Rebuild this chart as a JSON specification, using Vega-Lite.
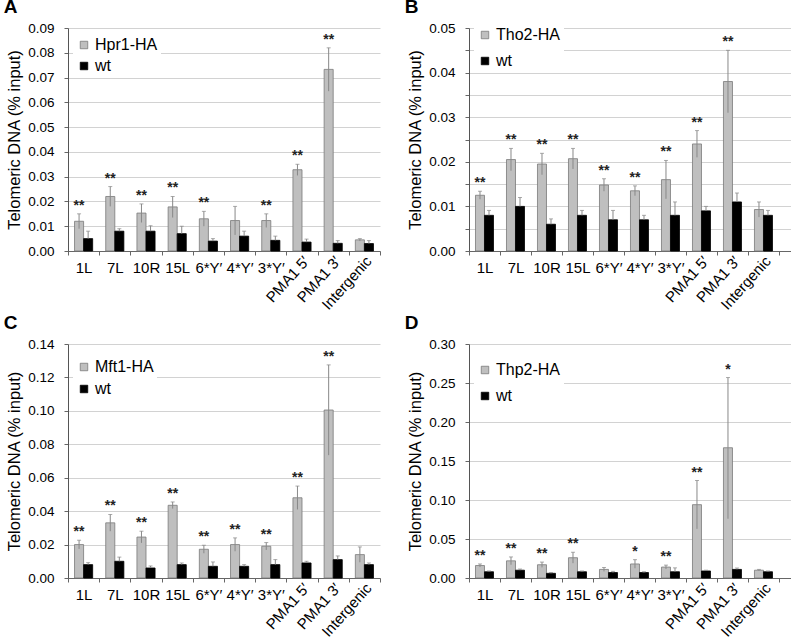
{
"$schema":"https://vega.github.io/schema/vega-lite/v6.json",
"background":"white",
"padding":{"left":3,"top":-2,"right":0,"bottom":0},
"datasets":{"d":[
{"p":"A","s":"1L","g":"Hpr1-HA","v":0.012,"lo":0.009,"hi":0.015,"sig":"**"},
{"p":"A","s":"7L","g":"Hpr1-HA","v":0.022,"lo":0.018,"hi":0.026,"sig":"**"},
{"p":"A","s":"10R","g":"Hpr1-HA","v":0.0153,"lo":0.0115,"hi":0.019,"sig":"**"},
{"p":"A","s":"15L","g":"Hpr1-HA","v":0.0178,"lo":0.0135,"hi":0.022,"sig":"**"},
{"p":"A","s":"6*Y′","g":"Hpr1-HA","v":0.013,"lo":0.010,"hi":0.016,"sig":"**"},
{"p":"A","s":"4*Y′","g":"Hpr1-HA","v":0.0123,"lo":0.0065,"hi":0.018,"sig":""},
{"p":"A","s":"3*Y′","g":"Hpr1-HA","v":0.0123,"lo":0.0095,"hi":0.015,"sig":"**"},
{"p":"A","s":"PMA1 5′","g":"Hpr1-HA","v":0.0328,"lo":0.0305,"hi":0.035,"sig":"**"},
{"p":"A","s":"PMA1 3′","g":"Hpr1-HA","v":0.0733,"lo":0.0645,"hi":0.082,"sig":"**"},
{"p":"A","s":"Intergenic","g":"Hpr1-HA","v":0.0045,"lo":0.004,"hi":0.005,"sig":""},
{"p":"A","s":"1L","g":"wt","v":0.005,"lo":0.002,"hi":0.008,"sig":""},
{"p":"A","s":"7L","g":"wt","v":0.008,"lo":0.007,"hi":0.009,"sig":""},
{"p":"A","s":"10R","g":"wt","v":0.008,"lo":0.006,"hi":0.0102,"sig":""},
{"p":"A","s":"15L","g":"wt","v":0.007,"lo":0.004,"hi":0.010,"sig":""},
{"p":"A","s":"6*Y′","g":"wt","v":0.004,"lo":0.003,"hi":0.005,"sig":""},
{"p":"A","s":"4*Y′","g":"wt","v":0.006,"lo":0.004,"hi":0.008,"sig":""},
{"p":"A","s":"3*Y′","g":"wt","v":0.0043,"lo":0.0027,"hi":0.006,"sig":""},
{"p":"A","s":"PMA1 5′","g":"wt","v":0.0036,"lo":0.0024,"hi":0.0048,"sig":""},
{"p":"A","s":"PMA1 3′","g":"wt","v":0.0031,"lo":0.002,"hi":0.0042,"sig":""},
{"p":"A","s":"Intergenic","g":"wt","v":0.003,"lo":0.0018,"hi":0.0042,"sig":""},
{"p":"B","s":"1L","g":"Tho2-HA","v":0.0125,"lo":0.0116,"hi":0.0134,"sig":"**"},
{"p":"B","s":"7L","g":"Tho2-HA","v":0.0205,"lo":0.018,"hi":0.023,"sig":"**"},
{"p":"B","s":"10R","g":"Tho2-HA","v":0.0195,"lo":0.0171,"hi":0.0219,"sig":"**"},
{"p":"B","s":"15L","g":"Tho2-HA","v":0.0207,"lo":0.0184,"hi":0.023,"sig":"**"},
{"p":"B","s":"6*Y′","g":"Tho2-HA","v":0.0148,"lo":0.0134,"hi":0.0162,"sig":"**"},
{"p":"B","s":"4*Y′","g":"Tho2-HA","v":0.0135,"lo":0.0124,"hi":0.0146,"sig":"**"},
{"p":"B","s":"3*Y′","g":"Tho2-HA","v":0.016,"lo":0.0117,"hi":0.0203,"sig":"**"},
{"p":"B","s":"PMA1 5′","g":"Tho2-HA","v":0.024,"lo":0.021,"hi":0.027,"sig":"**"},
{"p":"B","s":"PMA1 3′","g":"Tho2-HA","v":0.038,"lo":0.031,"hi":0.045,"sig":"**"},
{"p":"B","s":"Intergenic","g":"Tho2-HA","v":0.0093,"lo":0.0076,"hi":0.011,"sig":""},
{"p":"B","s":"1L","g":"wt","v":0.008,"lo":0.007,"hi":0.0091,"sig":""},
{"p":"B","s":"7L","g":"wt","v":0.010,"lo":0.008,"hi":0.012,"sig":""},
{"p":"B","s":"10R","g":"wt","v":0.006,"lo":0.005,"hi":0.0072,"sig":""},
{"p":"B","s":"15L","g":"wt","v":0.008,"lo":0.007,"hi":0.0091,"sig":""},
{"p":"B","s":"6*Y′","g":"wt","v":0.007,"lo":0.005,"hi":0.0091,"sig":""},
{"p":"B","s":"4*Y′","g":"wt","v":0.007,"lo":0.006,"hi":0.008,"sig":""},
{"p":"B","s":"3*Y′","g":"wt","v":0.008,"lo":0.005,"hi":0.011,"sig":""},
{"p":"B","s":"PMA1 5′","g":"wt","v":0.009,"lo":0.008,"hi":0.010,"sig":""},
{"p":"B","s":"PMA1 3′","g":"wt","v":0.011,"lo":0.009,"hi":0.013,"sig":""},
{"p":"B","s":"Intergenic","g":"wt","v":0.008,"lo":0.007,"hi":0.0091,"sig":""},
{"p":"C","s":"1L","g":"Mft1-HA","v":0.020,"lo":0.0174,"hi":0.0226,"sig":"**"},
{"p":"C","s":"7L","g":"Mft1-HA","v":0.033,"lo":0.028,"hi":0.038,"sig":"**"},
{"p":"C","s":"10R","g":"Mft1-HA","v":0.0245,"lo":0.021,"hi":0.028,"sig":"**"},
{"p":"C","s":"15L","g":"Mft1-HA","v":0.0435,"lo":0.0415,"hi":0.0455,"sig":"**"},
{"p":"C","s":"6*Y′","g":"Mft1-HA","v":0.0172,"lo":0.0148,"hi":0.0196,"sig":"**"},
{"p":"C","s":"4*Y′","g":"Mft1-HA","v":0.020,"lo":0.016,"hi":0.024,"sig":"**"},
{"p":"C","s":"3*Y′","g":"Mft1-HA","v":0.019,"lo":0.0168,"hi":0.0212,"sig":"**"},
{"p":"C","s":"PMA1 5′","g":"Mft1-HA","v":0.048,"lo":0.041,"hi":0.055,"sig":"**"},
{"p":"C","s":"PMA1 3′","g":"Mft1-HA","v":0.1005,"lo":0.0735,"hi":0.1275,"sig":"**"},
{"p":"C","s":"Intergenic","g":"Mft1-HA","v":0.014,"lo":0.0094,"hi":0.0186,"sig":""},
{"p":"C","s":"1L","g":"wt","v":0.008,"lo":0.0068,"hi":0.0092,"sig":""},
{"p":"C","s":"7L","g":"wt","v":0.010,"lo":0.0075,"hi":0.0125,"sig":""},
{"p":"C","s":"10R","g":"wt","v":0.006,"lo":0.0048,"hi":0.0072,"sig":""},
{"p":"C","s":"15L","g":"wt","v":0.008,"lo":0.007,"hi":0.009,"sig":""},
{"p":"C","s":"6*Y′","g":"wt","v":0.007,"lo":0.0044,"hi":0.0096,"sig":""},
{"p":"C","s":"4*Y′","g":"wt","v":0.007,"lo":0.006,"hi":0.008,"sig":""},
{"p":"C","s":"3*Y′","g":"wt","v":0.008,"lo":0.005,"hi":0.011,"sig":""},
{"p":"C","s":"PMA1 5′","g":"wt","v":0.009,"lo":0.008,"hi":0.010,"sig":""},
{"p":"C","s":"PMA1 3′","g":"wt","v":0.011,"lo":0.0088,"hi":0.0132,"sig":""},
{"p":"C","s":"Intergenic","g":"wt","v":0.008,"lo":0.007,"hi":0.009,"sig":""},
{"p":"D","s":"1L","g":"Thp2-HA","v":0.016,"lo":0.014,"hi":0.018,"sig":"**"},
{"p":"D","s":"7L","g":"Thp2-HA","v":0.022,"lo":0.017,"hi":0.027,"sig":"**"},
{"p":"D","s":"10R","g":"Thp2-HA","v":0.017,"lo":0.0136,"hi":0.0204,"sig":"**"},
{"p":"D","s":"15L","g":"Thp2-HA","v":0.026,"lo":0.019,"hi":0.033,"sig":"**"},
{"p":"D","s":"6*Y′","g":"Thp2-HA","v":0.011,"lo":0.0085,"hi":0.0135,"sig":""},
{"p":"D","s":"4*Y′","g":"Thp2-HA","v":0.018,"lo":0.0125,"hi":0.0235,"sig":"*"},
{"p":"D","s":"3*Y′","g":"Thp2-HA","v":0.014,"lo":0.0115,"hi":0.0165,"sig":"**"},
{"p":"D","s":"PMA1 5′","g":"Thp2-HA","v":0.094,"lo":0.063,"hi":0.125,"sig":"**"},
{"p":"D","s":"PMA1 3′","g":"Thp2-HA","v":0.167,"lo":0.076,"hi":0.257,"sig":"*"},
{"p":"D","s":"Intergenic","g":"Thp2-HA","v":0.010,"lo":0.009,"hi":0.011,"sig":""},
{"p":"D","s":"1L","g":"wt","v":0.008,"lo":0.007,"hi":0.009,"sig":""},
{"p":"D","s":"7L","g":"wt","v":0.010,"lo":0.009,"hi":0.0115,"sig":""},
{"p":"D","s":"10R","g":"wt","v":0.006,"lo":0.005,"hi":0.007,"sig":""},
{"p":"D","s":"15L","g":"wt","v":0.008,"lo":0.007,"hi":0.009,"sig":""},
{"p":"D","s":"6*Y′","g":"wt","v":0.007,"lo":0.006,"hi":0.0085,"sig":""},
{"p":"D","s":"4*Y′","g":"wt","v":0.007,"lo":0.006,"hi":0.008,"sig":""},
{"p":"D","s":"3*Y′","g":"wt","v":0.008,"lo":0.003,"hi":0.013,"sig":""},
{"p":"D","s":"PMA1 5′","g":"wt","v":0.009,"lo":0.008,"hi":0.010,"sig":""},
{"p":"D","s":"PMA1 3′","g":"wt","v":0.011,"lo":0.0095,"hi":0.0128,"sig":""},
{"p":"D","s":"Intergenic","g":"wt","v":0.008,"lo":0.007,"hi":0.009,"sig":""}
]},
"columns":2,
"spacing":{"row":93,"column":89},
"bounds":"flush",
"align":"each",
"resolve":{"scale":{"color":"independent","stroke":"independent","x":"independent","y":"independent","xOffset":"independent"},"legend":{"color":"independent"}},
"config":{
 "view":{"stroke":null},
 "font":"Liberation Sans",
 "axisX":{"title":null,"labelFont":"Liberation Sans","labelFontSize":15,"labelColor":"#000","domainColor":"#666","tickColor":"#666","tickSize":4,"tickBand":"extent","labelOverlap":false,"labelBound":false,"labelLimit":300,"grid":false,
  "labelAngle":{"expr":"indexof(['PMA1 5′','PMA1 3′','Intergenic'],datum.value)>=0 ? -48 : 0"},
  "labelAlign":{"expr":"indexof(['PMA1 5′','PMA1 3′','Intergenic'],datum.value)>=0 ? 'right' : 'center'"},
  "labelBaseline":{"expr":"indexof(['PMA1 5′','PMA1 3′','Intergenic'],datum.value)>=0 ? 'middle' : 'top'"},
  "labelPadding":{"expr":"indexof(['PMA1 5′','PMA1 3′','Intergenic'],datum.value)>=0 ? 3 : 5"},
  "labelOffset":{"expr":"indexof(['PMA1 5′','PMA1 3′','Intergenic'],datum.value)>=0 ? 4 : 0"}},
 "axisY":{"title":"Telomeric DNA (% input)","titleFont":"Liberation Sans","titleFontSize":16.5,"titleFontWeight":"normal","titleColor":"#000","titlePadding":5,"labelFont":"Liberation Sans","labelFontSize":13.5,"labelColor":"#000","labelPadding":10,"tickSize":4,"tickColor":"#666","domainColor":"#555","grid":true,"gridColor":"#d2d2d2","labelOverlap":false,"format":".2f"},
 "title":{"anchor":"start","frame":"bounds","font":"Liberation Sans","fontSize":19,"fontWeight":"bold","color":"#000","offset":0,"dx":-3},
 "legend":{"title":null,"orient":"none","fillColor":"#ffffff","padding":3,"symbolType":"square","symbolSize":56,"symbolStrokeColor":"#555","symbolStrokeWidth":0.8,"labelFont":"Liberation Sans","labelFontSize":16,"labelOffset":3,"labelColor":"#000"}
},
"concat":[
{
 "width":312,"height":223,
 "title":{"text":"A"},
 "data":{"name":"d"},
 "transform":[{"filter":"datum.p=='A'"}],
 "encoding":{
  "x":{"field":"s","type":"nominal","sort":["1L","7L","10R","15L","6*Y′","4*Y′","3*Y′","PMA1 5′","PMA1 3′","Intergenic"],"scale":{"paddingInner":0,"paddingOuter":0}},
  "xOffset":{"field":"g","type":"nominal","sort":["Hpr1-HA","wt"],"scale":{"paddingInner":0,"paddingOuter":0.72}}
 },
 "layer":[
  {"mark":{"type":"bar","strokeWidth":0.8},
   "encoding":{"y":{"field":"v","type":"quantitative","title":"Telomeric DNA (% input)","scale":{"domain":[0,0.09],"nice":false},"axis":{"values":[0,0.01,0.02,0.03,0.04,0.05,0.06,0.07,0.08,0.09]}},
    "color":{"field":"g","type":"nominal","scale":{"domain":["Hpr1-HA","wt"],"range":["#bfbfbf","#000000"]},"legend":{"legendX":5,"legendY":6,"rowPadding":5}},
    "stroke":{"field":"g","type":"nominal","scale":{"domain":["Hpr1-HA","wt"],"range":["#7a7a7a","#000000"]},"legend":null}}},
  {"transform":[{"filter":"datum.g!='wt'"}],"mark":{"type":"rule","color":"#888","strokeWidth":1},
   "encoding":{"y":{"field":"lo","type":"quantitative","title":"Telomeric DNA (% input)","scale":{"domain":[0,0.09],"nice":false},"axis":{"values":[0,0.01,0.02,0.03,0.04,0.05,0.06,0.07,0.08,0.09]}},"y2":{"field":"hi"}}},
  {"transform":[{"filter":"datum.g=='wt'"}],"mark":{"type":"rule","color":"#888","strokeWidth":1},
   "encoding":{"y":{"field":"v","type":"quantitative","title":"Telomeric DNA (% input)","scale":{"domain":[0,0.09],"nice":false},"axis":{"values":[0,0.01,0.02,0.03,0.04,0.05,0.06,0.07,0.08,0.09]}},"y2":{"field":"hi"}}},
  {"mark":{"type":"tick","orient":"horizontal","size":4,"thickness":1,"color":"#888"},
   "encoding":{"y":{"field":"hi","type":"quantitative","title":"Telomeric DNA (% input)","scale":{"domain":[0,0.09],"nice":false},"axis":{"values":[0,0.01,0.02,0.03,0.04,0.05,0.06,0.07,0.08,0.09]}}}},
  {"transform":[{"filter":"datum.g!='wt'"}],"mark":{"type":"text","dy":-8,"fontSize":14,"fontWeight":"bold","font":"Liberation Sans","color":"#222"},
   "encoding":{"y":{"field":"hi","type":"quantitative","title":"Telomeric DNA (% input)","scale":{"domain":[0,0.09],"nice":false},"axis":{"values":[0,0.01,0.02,0.03,0.04,0.05,0.06,0.07,0.08,0.09]}},"text":{"field":"sig"}}}
 ]
},
{
 "width":322,"height":223,
 "title":{"text":"B"},
 "data":{"name":"d"},
 "transform":[{"filter":"datum.p=='B'"}],
 "encoding":{
  "x":{"field":"s","type":"nominal","sort":["1L","7L","10R","15L","6*Y′","4*Y′","3*Y′","PMA1 5′","PMA1 3′","Intergenic"],"scale":{"paddingInner":0,"paddingOuter":0.194,"align":0}},
  "xOffset":{"field":"g","type":"nominal","sort":["Tho2-HA","wt"],"scale":{"paddingInner":0,"paddingOuter":0.72}}
 },
 "layer":[
  {"mark":{"type":"bar","strokeWidth":0.8},
   "encoding":{"y":{"field":"v","type":"quantitative","title":"Telomeric DNA (% input)","scale":{"domain":[0,0.05],"nice":false},"axis":{"values":[0,0.005,0.01,0.015,0.02,0.025,0.03,0.035,0.04,0.045,0.05],"labelExpr":"round(datum.value*1000) % 10 == 0 ? format(datum.value, '.2f') : ''"}},
    "color":{"field":"g","type":"nominal","scale":{"domain":["Tho2-HA","wt"],"range":["#bfbfbf","#000000"]},"legend":{"legendX":5,"legendY":-4,"rowPadding":10}},
    "stroke":{"field":"g","type":"nominal","scale":{"domain":["Tho2-HA","wt"],"range":["#7a7a7a","#000000"]},"legend":null}}},
  {"transform":[{"filter":"datum.g!='wt'"}],"mark":{"type":"rule","color":"#888","strokeWidth":1},
   "encoding":{"y":{"field":"lo","type":"quantitative","title":"Telomeric DNA (% input)","scale":{"domain":[0,0.05],"nice":false},"axis":{"values":[0,0.005,0.01,0.015,0.02,0.025,0.03,0.035,0.04,0.045,0.05],"labelExpr":"round(datum.value*1000) % 10 == 0 ? format(datum.value, '.2f') : ''"}},"y2":{"field":"hi"}}},
  {"transform":[{"filter":"datum.g=='wt'"}],"mark":{"type":"rule","color":"#888","strokeWidth":1},
   "encoding":{"y":{"field":"v","type":"quantitative","title":"Telomeric DNA (% input)","scale":{"domain":[0,0.05],"nice":false},"axis":{"values":[0,0.005,0.01,0.015,0.02,0.025,0.03,0.035,0.04,0.045,0.05],"labelExpr":"round(datum.value*1000) % 10 == 0 ? format(datum.value, '.2f') : ''"}},"y2":{"field":"hi"}}},
  {"mark":{"type":"tick","orient":"horizontal","size":4,"thickness":1,"color":"#888"},
   "encoding":{"y":{"field":"hi","type":"quantitative","title":"Telomeric DNA (% input)","scale":{"domain":[0,0.05],"nice":false},"axis":{"values":[0,0.005,0.01,0.015,0.02,0.025,0.03,0.035,0.04,0.045,0.05],"labelExpr":"round(datum.value*1000) % 10 == 0 ? format(datum.value, '.2f') : ''"}}}},
  {"transform":[{"filter":"datum.g!='wt'"}],"mark":{"type":"text","dy":-8,"fontSize":14,"fontWeight":"bold","font":"Liberation Sans","color":"#222"},
   "encoding":{"y":{"field":"hi","type":"quantitative","title":"Telomeric DNA (% input)","scale":{"domain":[0,0.05],"nice":false},"axis":{"values":[0,0.005,0.01,0.015,0.02,0.025,0.03,0.035,0.04,0.045,0.05],"labelExpr":"round(datum.value*1000) % 10 == 0 ? format(datum.value, '.2f') : ''"}},"text":{"field":"sig"}}}
 ]
},
{
 "width":312,"height":234,
 "title":{"text":"C"},
 "data":{"name":"d"},
 "transform":[{"filter":"datum.p=='C'"}],
 "encoding":{
  "x":{"field":"s","type":"nominal","sort":["1L","7L","10R","15L","6*Y′","4*Y′","3*Y′","PMA1 5′","PMA1 3′","Intergenic"],"scale":{"paddingInner":0,"paddingOuter":0}},
  "xOffset":{"field":"g","type":"nominal","sort":["Mft1-HA","wt"],"scale":{"paddingInner":0,"paddingOuter":0.72}}
 },
 "layer":[
  {"mark":{"type":"bar","strokeWidth":0.8},
   "encoding":{"y":{"field":"v","type":"quantitative","title":"Telomeric DNA (% input)","scale":{"domain":[0,0.14],"nice":false},"axis":{"values":[0,0.02,0.04,0.06,0.08,0.1,0.12,0.14]}},
    "color":{"field":"g","type":"nominal","scale":{"domain":["Mft1-HA","wt"],"range":["#bfbfbf","#000000"]},"legend":{"legendX":5,"legendY":12,"rowPadding":6}},
    "stroke":{"field":"g","type":"nominal","scale":{"domain":["Mft1-HA","wt"],"range":["#7a7a7a","#000000"]},"legend":null}}},
  {"transform":[{"filter":"datum.g!='wt'"}],"mark":{"type":"rule","color":"#888","strokeWidth":1},
   "encoding":{"y":{"field":"lo","type":"quantitative","title":"Telomeric DNA (% input)","scale":{"domain":[0,0.14],"nice":false},"axis":{"values":[0,0.02,0.04,0.06,0.08,0.1,0.12,0.14]}},"y2":{"field":"hi"}}},
  {"transform":[{"filter":"datum.g=='wt'"}],"mark":{"type":"rule","color":"#888","strokeWidth":1},
   "encoding":{"y":{"field":"v","type":"quantitative","title":"Telomeric DNA (% input)","scale":{"domain":[0,0.14],"nice":false},"axis":{"values":[0,0.02,0.04,0.06,0.08,0.1,0.12,0.14]}},"y2":{"field":"hi"}}},
  {"mark":{"type":"tick","orient":"horizontal","size":4,"thickness":1,"color":"#888"},
   "encoding":{"y":{"field":"hi","type":"quantitative","title":"Telomeric DNA (% input)","scale":{"domain":[0,0.14],"nice":false},"axis":{"values":[0,0.02,0.04,0.06,0.08,0.1,0.12,0.14]}}}},
  {"transform":[{"filter":"datum.g!='wt'"}],"mark":{"type":"text","dy":-8,"fontSize":14,"fontWeight":"bold","font":"Liberation Sans","color":"#222"},
   "encoding":{"y":{"field":"hi","type":"quantitative","title":"Telomeric DNA (% input)","scale":{"domain":[0,0.14],"nice":false},"axis":{"values":[0,0.02,0.04,0.06,0.08,0.1,0.12,0.14]}},"text":{"field":"sig"}}}
 ]
},
{
 "width":322,"height":234,
 "title":{"text":"D"},
 "data":{"name":"d"},
 "transform":[{"filter":"datum.p=='D'"}],
 "encoding":{
  "x":{"field":"s","type":"nominal","sort":["1L","7L","10R","15L","6*Y′","4*Y′","3*Y′","PMA1 5′","PMA1 3′","Intergenic"],"scale":{"paddingInner":0,"paddingOuter":0.194,"align":0}},
  "xOffset":{"field":"g","type":"nominal","sort":["Thp2-HA","wt"],"scale":{"paddingInner":0,"paddingOuter":0.72}}
 },
 "layer":[
  {"mark":{"type":"bar","strokeWidth":0.8},
   "encoding":{"y":{"field":"v","type":"quantitative","title":"Telomeric DNA (% input)","scale":{"domain":[0,0.3],"nice":false},"axis":{"values":[0,0.05,0.1,0.15,0.2,0.25,0.3]}},
    "color":{"field":"g","type":"nominal","scale":{"domain":["Thp2-HA","wt"],"range":["#bfbfbf","#000000"]},"legend":{"legendX":5,"legendY":15,"rowPadding":10}},
    "stroke":{"field":"g","type":"nominal","scale":{"domain":["Thp2-HA","wt"],"range":["#7a7a7a","#000000"]},"legend":null}}},
  {"transform":[{"filter":"datum.g!='wt'"}],"mark":{"type":"rule","color":"#888","strokeWidth":1},
   "encoding":{"y":{"field":"lo","type":"quantitative","title":"Telomeric DNA (% input)","scale":{"domain":[0,0.3],"nice":false},"axis":{"values":[0,0.05,0.1,0.15,0.2,0.25,0.3]}},"y2":{"field":"hi"}}},
  {"transform":[{"filter":"datum.g=='wt'"}],"mark":{"type":"rule","color":"#888","strokeWidth":1},
   "encoding":{"y":{"field":"v","type":"quantitative","title":"Telomeric DNA (% input)","scale":{"domain":[0,0.3],"nice":false},"axis":{"values":[0,0.05,0.1,0.15,0.2,0.25,0.3]}},"y2":{"field":"hi"}}},
  {"mark":{"type":"tick","orient":"horizontal","size":4,"thickness":1,"color":"#888"},
   "encoding":{"y":{"field":"hi","type":"quantitative","title":"Telomeric DNA (% input)","scale":{"domain":[0,0.3],"nice":false},"axis":{"values":[0,0.05,0.1,0.15,0.2,0.25,0.3]}}}},
  {"transform":[{"filter":"datum.g!='wt'"}],"mark":{"type":"text","dy":-8,"fontSize":14,"fontWeight":"bold","font":"Liberation Sans","color":"#222"},
   "encoding":{"y":{"field":"hi","type":"quantitative","title":"Telomeric DNA (% input)","scale":{"domain":[0,0.3],"nice":false},"axis":{"values":[0,0.05,0.1,0.15,0.2,0.25,0.3]}},"text":{"field":"sig"}}}
 ]
}
]
}
